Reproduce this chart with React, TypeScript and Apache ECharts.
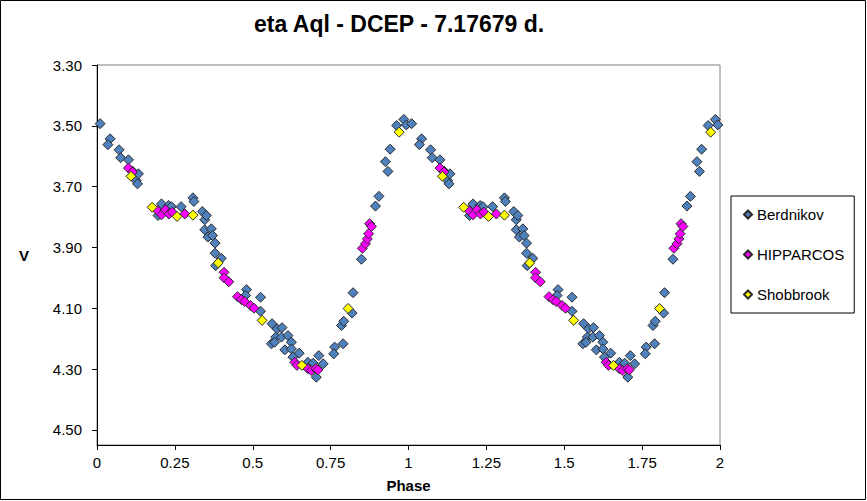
import React, { useEffect, useRef } from 'react';
import * as echarts from 'echarts';

// phase, V — one cycle; the chart plots it twice (phase and phase + 1)
const berdnikov: number[][] = [
  [0.010, 3.493], [0.042, 3.543], [0.035, 3.562], [0.071, 3.579], [0.076, 3.605],
  [0.101, 3.612], [0.114, 3.649], [0.126, 3.680], [0.133, 3.658], [0.130, 3.691],
  [0.207, 3.757], [0.230, 3.762], [0.239, 3.766], [0.196, 3.795], [0.270, 3.766],
  [0.308, 3.737], [0.311, 3.749], [0.338, 3.782], [0.346, 3.809], [0.351, 3.795],
  [0.346, 3.842], [0.367, 3.839], [0.356, 3.866], [0.371, 3.861], [0.379, 3.886],
  [0.379, 3.919], [0.399, 3.936], [0.381, 3.960], [0.480, 4.039], [0.477, 4.058],
  [0.525, 4.064], [0.525, 4.110], [0.562, 4.151], [0.578, 4.168], [0.594, 4.164],
  [0.574, 4.195], [0.592, 4.195], [0.613, 4.190], [0.560, 4.217], [0.570, 4.212],
  [0.624, 4.212], [0.603, 4.237], [0.624, 4.234], [0.649, 4.248], [0.629, 4.261],
  [0.677, 4.278], [0.694, 4.281], [0.712, 4.256], [0.726, 4.283], [0.704, 4.327],
  [0.763, 4.228], [0.760, 4.250], [0.790, 4.217], [0.785, 4.157], [0.792, 4.143],
  [0.819, 4.116], [0.822, 4.049], [0.849, 3.939], [0.894, 3.764], [0.905, 3.732],
  [0.934, 3.650], [0.926, 3.618], [0.941, 3.577], [0.962, 3.499], [0.985, 3.479],
  [0.993, 3.497],
];

const hipparcos: number[][] = [
  [0.101, 3.639], [0.114, 3.652], [0.194, 3.779], [0.207, 3.793], [0.220, 3.776],
  [0.231, 3.790], [0.242, 3.784], [0.282, 3.790], [0.408, 3.982], [0.408, 4.000],
  [0.423, 4.013], [0.451, 4.062], [0.464, 4.072], [0.474, 4.078], [0.493, 4.091],
  [0.504, 4.100], [0.635, 4.278], [0.642, 4.288], [0.677, 4.299], [0.688, 4.305],
  [0.702, 4.299], [0.709, 4.303], [0.852, 3.903], [0.862, 3.888], [0.868, 3.872],
  [0.872, 3.855], [0.875, 3.822], [0.881, 3.831],
];

const shobbrook: number[][] = [
  [0.109, 3.666], [0.177, 3.768], [0.257, 3.798], [0.308, 3.794], [0.389, 3.951],
  [0.530, 4.140], [0.658, 4.288], [0.806, 4.101], [0.970, 3.521],
];

const yTicks = [3.3, 3.5, 3.7, 3.9, 4.1, 4.3, 4.5];

const twoCycles = (pts: number[][]) => [...pts, ...pts.map(([p, v]) => [p + 1, v])];

const FONT = '"Liberation Sans", Arial, sans-serif';

const App: React.FC = () => {
  const chartRef = useRef<HTMLDivElement | null>(null);

  useEffect(() => {
    if (!chartRef.current) return;
    const chart = echarts.init(chartRef.current, null, { renderer: 'svg' });

    const mk = (name: string, data: number[][], color: string) => ({
      name,
      type: 'scatter',
      data: twoCycles(data),
      symbol: 'diamond',
      symbolSize: 10,
      itemStyle: { color, borderColor: '#2a2a2a', borderWidth: 1, opacity: 1 },
    });

    chart.setOption({
      animation: false,
      textStyle: { fontFamily: FONT },
      title: {
        text: 'eta Aql - DCEP - 7.17679 d.',
        left: 249,
        top: 7,
        textStyle: { fontFamily: FONT, fontSize: 23, fontWeight: 'bold', color: '#000' },
      },
      grid: {
        left: 97,
        top: 65,
        right: 147,
        bottom: 56,
        show: true,
        borderColor: '#808080',
        borderWidth: 1,
      },
      legend: {
        orient: 'vertical',
        left: 731,
        top: 196,
        itemWidth: 8,
        itemHeight: 8,
        itemGap: 25,
        padding: [11, 10, 11, 12],
        borderColor: '#000',
        borderWidth: 1,
        textStyle: { fontFamily: FONT, fontSize: 15, color: '#000', lineHeight: 15 },
        data: ['Berdnikov', 'HIPPARCOS', 'Shobbrook'],
      },
      xAxis: {
        type: 'value',
        min: 0,
        max: 2,
        interval: 0.25,
        name: 'Phase',
        nameLocation: 'middle',
        nameGap: 33,
        nameTextStyle: { fontFamily: FONT, fontSize: 15, fontWeight: 'bold', color: '#000' },
        axisLine: { onZero: false, lineStyle: { color: '#000', width: 1 } },
        axisTick: { show: true, length: 5, lineStyle: { color: '#000' } },
        axisLabel: { fontFamily: FONT, fontSize: 15, color: '#000', margin: 10 },
        splitLine: { show: false },
      },
      yAxis: {
        type: 'value',
        inverse: true,
        min: 3.3,
        max: 4.55,
        name: 'V',
        nameLocation: 'middle',
        nameRotate: 0,
        nameGap: 68,
        nameTextStyle: { fontFamily: FONT, fontSize: 15, fontWeight: 'bold', color: '#000' },
        axisLine: { show: true, lineStyle: { color: '#000', width: 1 } },
        axisTick: { show: true, length: 5, customValues: yTicks, lineStyle: { color: '#000' } },
        axisLabel: {
          fontFamily: FONT,
          fontSize: 15,
          color: '#000',
          margin: 15,
          customValues: yTicks,
          formatter: (v: number) => v.toFixed(2),
        },
        splitLine: { show: false },
      },
      graphic: [
        {
          type: 'rect',
          shape: { x: 0.5, y: 0.5, width: 865, height: 499 },
          style: { fill: 'none', stroke: '#000', lineWidth: 1 },
          silent: true,
        },
      ],
      series: [
        mk('Berdnikov', berdnikov, '#4f81bd'),
        mk('HIPPARCOS', hipparcos, '#ff00ff'),
        mk('Shobbrook', shobbrook, '#ffff00'),
      ],
    });

    return () => chart.dispose();
  }, []);

  return (
    <div
      ref={chartRef}
      style={{ position: 'absolute', left: 0, top: 0, width: 867, height: 501, background: '#fff' }}
    />
  );
};

export default App;
